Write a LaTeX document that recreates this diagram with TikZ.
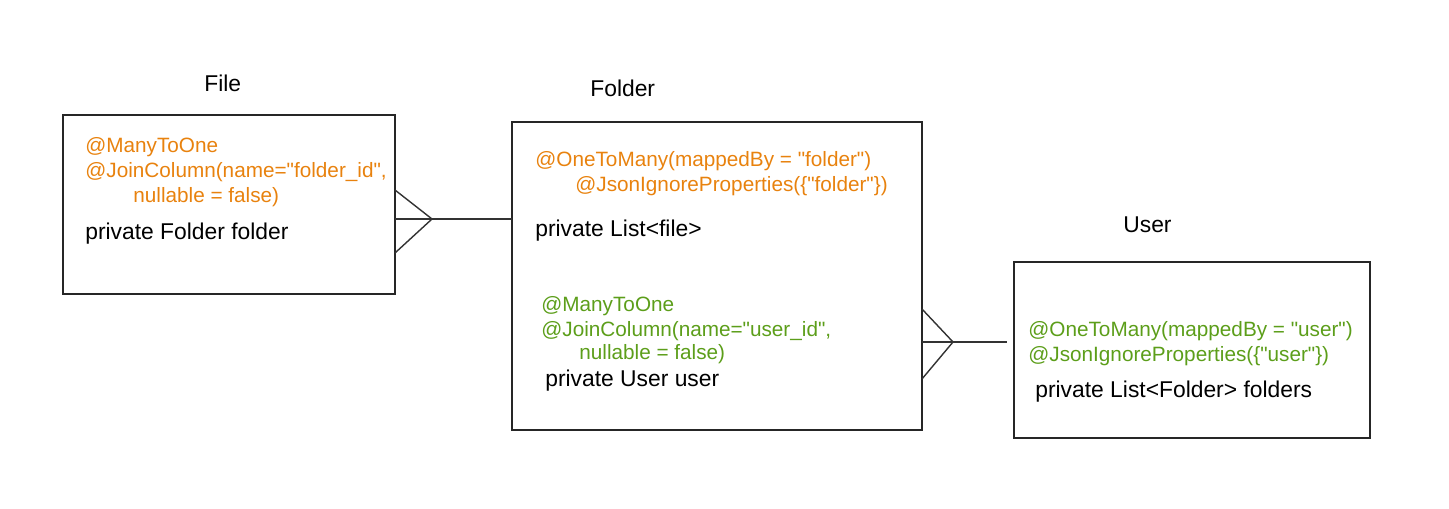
\documentclass[tikz,border=0pt]{standalone}
\usepackage{fontspec}
\setmainfont{Liberation Sans}[Ligatures=TeXOff]
\definecolor{annorange}{HTML}{E8820E}
\definecolor{anngreen}{HTML}{5C9E1A}
\tikzset{
	entity/.style={draw=black!85,line width=0.9pt,inner sep=0pt,outer sep=0pt},
	txt/.style={anchor=base west,inner sep=0pt,font=\fontsize{13}{15}\selectfont},
	annoor/.style={txt,font=\fontsize{11.8}{14}\selectfont,text=annorange},
	annogr/.style={txt,font=\fontsize{11.8}{14}\selectfont,text=anngreen},
	rel/.style={draw=black!80,line width=0.8pt}
}
\begin{document}
\begin{tikzpicture}[x=0.02cm,y=-0.02cm]
	\useasboundingbox (0,0) rectangle (1449,509);
	\node[entity,minimum width=6.64cm,minimum height=3.58cm] (file) at (229,204.5) {};
	\node[entity,minimum width=8.2cm,minimum height=6.16cm] (folder) at (717,276) {};
	\node[entity,minimum width=7.12cm,minimum height=3.52cm] (user) at (1192,350) {};
	\node[txt] (fileTitle) at (204,92) {File};
	\node[txt] (folderTitle) at (590,97) {Folder};
	\node[txt] (userTitle) at (1123,233) {User};
	\node[annoor] (fileMto) at (85,153) {@ManyToOne};
	\node[annoor] (fileJoin) at (85,178) {@JoinColumn(name="folder\_id",};
	\node[annoor] (fileNull) at (133,203) {nullable = false)};
	\node[txt] (fileField) at (85,240) {private Folder folder};
	\node[annoor] (folderOtm) at (535,167) {@OneToMany(mappedBy = "folder")};
	\node[annoor] (folderIgn) at (575,192) {@JsonIgnoreProperties(\{"folder"\})};
	\node[txt] (folderFiles) at (535,237) {private List<file>};
	\node[annogr] (folderMto) at (541,312) {@ManyToOne};
	\node[annogr] (folderJoin) at (541,337) {@JoinColumn(name="user\_id",};
	\node[annogr] (folderNull) at (579,360) {nullable = false)};
	\node[txt] (folderUser) at (545,387) {private User user};
	\node[annogr] (userOtm) at (1028,337) {@OneToMany(mappedBy = "user")};
	\node[annogr] (userIgn) at (1028,362) {@JsonIgnoreProperties(\{"user"\})};
	\node[txt] (userFolders) at (1035,398) {private List<Folder> folders};
	\coordinate (fileFoot) at (432,219);
	\draw[rel] (file.east |- 0,190) -- (fileFoot) -- (file.east |- 0,253);
	\draw[rel] (file.east |- fileFoot) -- (folder.west |- fileFoot);
	\coordinate (folderFoot) at (953,342);
	\draw[rel] (folder.east |- 0,309) -- (folderFoot) -- (folder.east |- 0,379);
	\draw[rel,shorten >=0.14cm] (folder.east |- folderFoot) -- (user.west |- folderFoot);
\end{tikzpicture}
\end{document}
